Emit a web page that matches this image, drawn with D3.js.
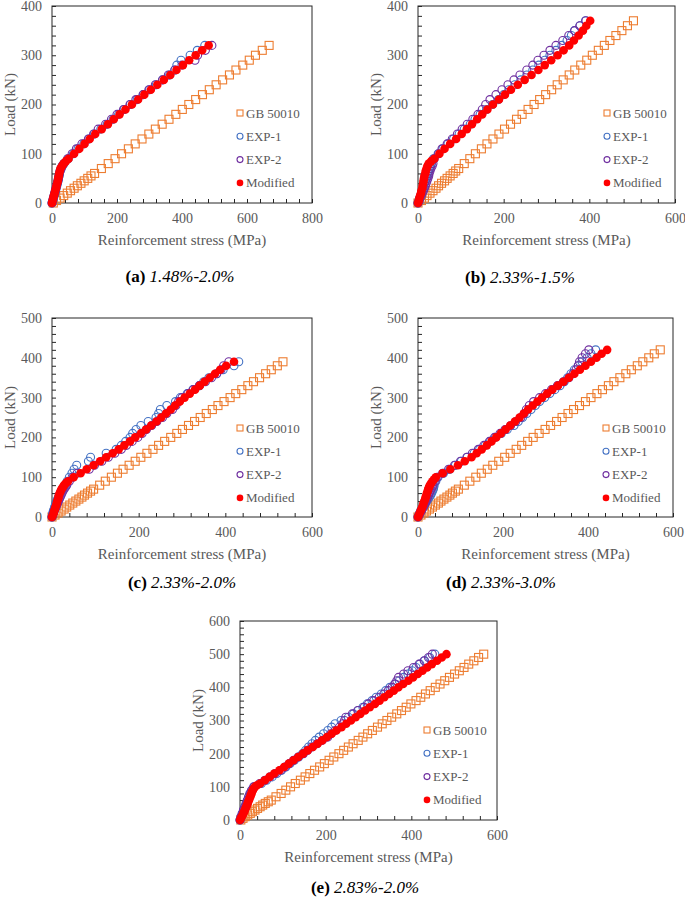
<!DOCTYPE html>
<html><head><meta charset="utf-8">
<script src="https://cdn.jsdelivr.net/npm/d3@7/dist/d3.min.js"></script>
<style>
body{margin:0;background:#fff}
svg text{font-family:"Liberation Serif","Times New Roman",serif}
</style>
</head><body>
<svg id="chart" width="685" height="902"></svg>
<script>
// ---------- DATA: [stress (MPa), load (kN)] ----------
const seriesNames = ["GB 50010", "EXP-1", "EXP-2", "Modified"];
const captionLabels = ["(a)", "(b)", "(c)", "(d)", "(e)"];
const captionTexts = ["1.48%-2.0%", "2.33%-1.5%", "2.33%-2.0%", "2.33%-3.0%", "2.83%-2.0%"];
const xTitle = "Reinforcement stress (MPa)";
const yTitle = "Load (kN)";
const xMaxes = [800, 600, 600, 600, 600];
const yMaxes = [400, 400, 500, 500, 600];

// Panel (a)
const gbA = [[4,0],[14,5],[25,10],[36,15],[47,20],[57,25],[68,30],[78,35],[89,40],[99,45],[110,50],[120,55],[131,60],[152,70],[173,80],[194,90],[214,100],[235,110],[256,120],[277,130],[298,140],[318,150],[339,160],[360,170],[381,180],[401,190],[421,200],[442,210],[463,220],[484,230],[505,240],[525,250],[546,260],[566,270],[587,280],[607,290],[626,300],[647,310],[668,320]];
const exp1A = [[0,0],[3,5],[5,10],[7,15],[9,20],[11,25],[13,30],[15,35],[17,40],[19,45],[20,50],[22,55],[23,60],[25,65],[28,70],[32,75],[37,80],[50,90],[66,100],[80,110],[98,120],[113,130],[130,140],[150,150],[170,160],[188,170],[205,180],[222,190],[241,200],[262,210],[281,220],[300,230],[321,240],[340,250],[362,260],[378,270],[384,280],[397,290],[425,300],[447,310],[470,320]];
const exp2A = [[0,0],[2,5],[4,10],[6,15],[8,20],[10,25],[12,30],[14,35],[16,40],[18,45],[20,50],[21,55],[23,60],[25,65],[28,70],[31,75],[36,80],[48,90],[62,100],[75,110],[92,120],[112,130],[128,140],[142,150],[165,160],[183,170],[200,180],[220,190],[240,200],[258,210],[280,220],[298,230],[318,240],[340,250],[358,260],[378,270],[400,280],[440,290],[448,300],[472,310],[492,320]];
const modA = [[0,0],[2,5],[4,10],[6,15],[8,20],[10,25],[12,30],[14,35],[16,40],[18,45],[19,50],[21,55],[22,60],[24,65],[26,70],[31,75],[36,80],[43,85],[51,90],[68,100],[84,110],[100,120],[116,130],[133,140],[153,150],[172,160],[190,170],[208,180],[226,190],[246,200],[265,210],[284,220],[304,230],[324,240],[344,250],[364,260],[383,270],[403,280],[422,290],[442,300],[462,310],[482,320]];

// Panel (b)
const gbB = [[0,0],[8,5],[15,10],[21,15],[28,20],[35,25],[42,30],[48,35],[55,40],[62,45],[68,50],[75,55],[82,60],[88,65],[95,70],[108,80],[121,90],[134,100],[148,110],[161,120],[175,130],[189,140],[202,150],[216,160],[230,170],[243,180],[257,190],[271,200],[284,210],[298,220],[312,230],[325,240],[339,250],[353,260],[366,270],[380,280],[394,290],[407,300],[421,310],[435,320],[448,330],[462,340],[476,350],[489,360],[503,370]];
const exp1B = [[0,0],[2,5],[4,10],[6,15],[8,20],[10,25],[12,30],[13,35],[15,40],[17,45],[19,50],[21,55],[23,60],[25,65],[27,70],[29,75],[31,80],[36,90],[47,100],[58,110],[70,120],[83,130],[96,140],[108,150],[122,160],[133,170],[145,180],[160,190],[174,200],[188,210],[200,220],[212,230],[226,240],[240,250],[254,260],[268,270],[282,280],[296,290],[308,300],[322,310],[336,320],[348,330],[358,340],[365,350],[378,360],[391,370]];
const exp2B = [[0,0],[3,5],[5,10],[8,15],[10,20],[13,25],[15,30],[17,35],[19,40],[21,45],[23,50],[25,55],[26,60],[28,65],[30,70],[33,75],[35,80],[38,90],[48,100],[56,110],[68,120],[80,130],[92,140],[103,150],[115,160],[128,170],[140,180],[150,190],[158,200],[168,210],[182,220],[196,230],[210,240],[224,250],[238,260],[254,270],[268,280],[280,290],[294,300],[308,310],[322,320],[338,330],[352,340],[366,350],[378,360],[392,370]];
const modB = [[0,0],[2,5],[3,10],[5,15],[7,20],[8,25],[10,30],[11,35],[12,40],[13,45],[14,50],[15,55],[17,60],[18,65],[20,70],[22,75],[25,80],[31,85],[38,90],[50,100],[62,110],[75,120],[89,130],[102,140],[114,150],[126,160],[138,170],[150,180],[162,190],[175,200],[189,210],[203,220],[217,230],[233,240],[249,250],[265,260],[281,270],[296,280],[311,290],[326,300],[340,310],[353,320],[364,330],[375,340],[385,350],[393,360],[402,370]];

// Panel (c)
const gbC = [[0,0],[7,5],[14,10],[21,15],[28,20],[34,25],[41,30],[48,35],[55,40],[62,45],[69,50],[75,55],[82,60],[89,65],[96,70],[110,80],[123,90],[137,100],[151,110],[164,120],[178,130],[192,140],[205,150],[219,160],[233,170],[246,180],[260,190],[274,200],[288,210],[301,220],[315,230],[329,240],[342,250],[356,260],[370,270],[383,280],[397,290],[411,300],[424,310],[438,320],[452,330],[465,340],[479,350],[493,360],[506,370],[520,380],[533,390]];
const exp1C = [[0,0],[1,5],[2,10],[3,15],[5,20],[6,25],[8,30],[9,35],[11,40],[13,45],[15,50],[17,55],[19,60],[21,65],[24,70],[27,75],[30,80],[35,90],[40,100],[46,110],[51,120],[57,130],[84,140],[89,150],[125,160],[148,170],[160,180],[170,190],[180,200],[186,210],[194,220],[205,230],[222,240],[240,250],[246,260],[250,270],[265,280],[285,290],[296,300],[312,310],[325,320],[340,330],[350,340],[362,350],[380,360],[395,370],[420,380],[431,390]];
const exp2C = [[0,0],[2,5],[3,10],[5,15],[7,20],[9,25],[11,30],[13,35],[15,40],[17,45],[19,50],[21,55],[23,60],[25,65],[28,70],[31,75],[34,80],[40,90],[48,100],[58,110],[86,120],[98,130],[115,140],[130,150],[145,160],[160,170],[172,180],[185,190],[198,200],[208,210],[218,220],[230,230],[242,240],[255,250],[265,260],[278,270],[286,280],[292,290],[300,300],[314,310],[326,320],[340,330],[354,340],[368,350],[380,360],[390,370],[396,380],[408,390]];
const modC = [[0,0],[2,5],[4,10],[5,15],[7,20],[8,25],[10,30],[11,35],[12,40],[14,45],[15,50],[16,55],[18,60],[20,65],[22,70],[25,75],[28,80],[32,85],[37,90],[50,100],[66,110],[80,120],[96,130],[111,140],[125,150],[140,160],[154,170],[167,180],[180,190],[192,200],[205,210],[217,220],[229,230],[241,240],[252,250],[263,260],[274,270],[284,280],[295,290],[306,300],[318,310],[330,320],[341,330],[352,340],[364,350],[376,360],[388,370],[402,380],[420,390]];

// Panel (d)
const gbD = [[0,0],[7,5],[14,10],[20,15],[27,20],[34,25],[41,30],[48,35],[54,40],[61,45],[68,50],[75,55],[81,60],[88,65],[95,70],[109,80],[122,90],[136,100],[149,110],[163,120],[176,130],[190,140],[204,150],[217,160],[231,170],[244,180],[258,190],[271,200],[285,210],[299,220],[312,230],[326,240],[339,250],[353,260],[366,270],[380,280],[394,290],[407,300],[421,310],[434,320],[448,330],[461,340],[475,350],[489,360],[502,370],[516,380],[529,390],[543,400],[556,410],[570,420]];
const exp1D = [[0,0],[2,5],[4,10],[6,15],[9,20],[12,25],[15,30],[18,35],[21,40],[24,45],[27,50],[30,55],[32,60],[34,65],[36,70],[37,75],[38,80],[42,90],[47,100],[60,110],[75,120],[88,130],[102,140],[116,150],[132,160],[145,170],[158,180],[170,190],[182,200],[196,210],[210,220],[226,230],[236,240],[246,250],[256,260],[266,270],[276,280],[286,290],[298,300],[310,310],[322,320],[334,330],[344,340],[352,350],[360,360],[368,370],[377,380],[386,390],[398,400],[407,410],[418,420]];
const exp2D = [[0,0],[3,5],[5,10],[8,15],[10,20],[13,25],[15,30],[17,35],[19,40],[21,45],[23,50],[25,55],[27,60],[29,65],[31,70],[33,75],[35,80],[40,90],[45,100],[58,110],[72,120],[86,130],[100,140],[115,150],[128,160],[142,170],[155,180],[168,190],[180,200],[193,210],[205,220],[218,230],[230,240],[242,250],[250,260],[255,270],[262,280],[272,290],[286,300],[300,310],[314,320],[328,330],[342,340],[355,350],[365,360],[372,370],[377,380],[380,390],[386,400],[394,410],[402,420]];
const modD = [[0,0],[2,5],[4,10],[6,15],[8,20],[10,25],[12,30],[13,35],[15,40],[17,45],[18,50],[20,55],[21,60],[23,65],[24,70],[26,75],[28,80],[31,85],[34,90],[38,95],[42,100],[58,110],[76,120],[94,130],[110,140],[126,150],[138,160],[150,170],[162,180],[173,190],[184,200],[195,210],[206,220],[217,230],[228,240],[239,250],[249,260],[259,270],[270,280],[281,290],[292,300],[304,310],[316,320],[329,330],[342,340],[355,350],[368,360],[381,370],[394,380],[407,390],[420,400],[432,410],[445,420]];

// Panel (e)
const gbE = [[2,0],[7,5],[12,10],[18,15],[24,20],[29,25],[35,30],[41,35],[47,40],[53,45],[59,50],[66,55],[73,60],[84,70],[96,80],[107,90],[118,100],[129,110],[141,120],[152,130],[163,140],[174,150],[186,160],[197,170],[208,180],[219,190],[231,200],[242,210],[253,220],[264,230],[276,240],[287,250],[298,260],[309,270],[321,280],[332,290],[343,300],[354,310],[366,320],[377,330],[388,340],[399,350],[411,360],[422,370],[433,380],[444,390],[456,400],[467,410],[478,420],[489,430],[501,440],[512,450],[523,460],[534,470],[546,480],[557,490],[569,500]];
const exp1E = [[0,0],[3,10],[6,20],[9,30],[12,40],[15,50],[18,60],[21,70],[24,80],[28,90],[33,100],[50,110],[62,120],[75,130],[86,140],[97,150],[107,160],[117,170],[127,180],[137,190],[146,200],[153,210],[160,220],[168,230],[176,240],[185,250],[195,260],[205,270],[214,280],[222,290],[236,300],[253,310],[265,320],[276,330],[287,340],[297,350],[308,360],[318,370],[330,380],[340,390],[350,400],[361,410],[372,420],[382,430],[392,440],[402,450],[411,460],[420,470],[431,480],[443,490],[455,500]];
const exp2E = [[0,0],[2,10],[5,20],[8,30],[11,40],[14,50],[17,60],[20,70],[23,80],[27,90],[32,100],[46,110],[58,120],[70,130],[82,140],[95,150],[105,160],[115,170],[125,180],[136,190],[148,200],[158,210],[168,220],[180,230],[192,240],[205,250],[212,260],[222,270],[232,280],[240,290],[244,300],[247,310],[262,320],[275,330],[290,340],[300,350],[312,360],[325,370],[336,380],[346,390],[355,400],[362,410],[366,420],[370,430],[382,440],[392,450],[405,460],[418,470],[430,480],[440,490],[449,500]];
const modE = [[0,0],[2,5],[4,10],[6,15],[8,20],[10,25],[11,30],[13,35],[15,40],[16,45],[18,50],[19,55],[21,60],[22,65],[24,70],[25,75],[27,80],[28,85],[30,90],[32,95],[35,100],[40,105],[47,110],[58,120],[69,130],[80,140],[92,150],[103,160],[114,170],[125,180],[136,190],[147,200],[158,210],[170,220],[181,230],[192,240],[203,250],[214,260],[225,270],[237,280],[248,290],[259,300],[270,310],[281,320],[292,330],[303,340],[315,350],[326,360],[337,370],[348,380],[359,390],[370,400],[381,410],[393,420],[404,430],[415,440],[426,450],[437,460],[448,470],[460,480],[471,490],[482,500]];

// ---------- LAYOUT / STYLE ----------
const colors = ["#ED7D31", "#4472C4", "#7030A0", "#FF0000"];
const panelData = [
  [gbA, exp1A, exp2A, modA],
  [gbB, exp1B, exp2B, modB],
  [gbC, exp1C, exp2C, modC],
  [gbD, exp1D, exp2D, modD],
  [gbE, exp1E, exp2E, modE]
];
const layout = [
  {x0: 52,  x1: 312, y0: 6,   y1: 203, legX: 240, legY: 113, capX: 180, capY: 282},
  {x0: 418, x1: 675, y0: 6,   y1: 203, legX: 607, legY: 113, capX: 520, capY: 283},
  {x0: 52,  x1: 312, y0: 318, y1: 517, legX: 240, legY: 428, capX: 182, capY: 588},
  {x0: 418, x1: 673, y0: 318, y1: 517, legX: 606, legY: 428, capX: 501, capY: 588},
  {x0: 240, x1: 497, y0: 621, y1: 820, legX: 427, legY: 730, capX: 365, capY: 893}
];
const grey = "#595959", axisCol = "#262626";

const svg = d3.select("#chart");

panelData.forEach((series, i) => {
  const L = layout[i];
  const x = d3.scaleLinear().domain([0, xMaxes[i]]).range([L.x0, L.x1]);
  const y = d3.scaleLinear().domain([0, yMaxes[i]]).range([L.y1, L.y0]);
  const g = svg.append("g");

  // minor/major inward ticks
  const xt = g.append("g").attr("transform", `translate(0,${L.y1})`)
    .call(d3.axisBottom(x).tickValues(d3.range(0, xMaxes[i] + 1, 40)).tickSize(-4).tickFormat(""));
  const yt = g.append("g").attr("transform", `translate(${L.x0},0)`)
    .call(d3.axisLeft(y).tickValues(d3.range(0, yMaxes[i] + 1, 20)).tickSize(-4).tickFormat(""));
  [xt, yt].forEach(a => { a.select(".domain").remove(); a.selectAll("line").attr("stroke", axisCol); });

  // labels
  const xl = g.append("g").attr("transform", `translate(0,${L.y1})`)
    .call(d3.axisBottom(x).tickValues(d3.range(0, xMaxes[i] + 1, 200)).tickSize(0).tickPadding(10));
  const yl = g.append("g").attr("transform", `translate(${L.x0},0)`)
    .call(d3.axisLeft(y).tickValues(d3.range(0, yMaxes[i] + 1, 100)).tickSize(0).tickPadding(10));
  [xl, yl].forEach(a => {
    a.select(".domain").remove();
    a.selectAll("text").attr("fill", grey).attr("font-size", 14)
      .attr("font-family", '"Liberation Serif","Times New Roman",serif');
  });

  // frame
  g.append("rect").attr("x", L.x0).attr("y", L.y0).attr("width", L.x1 - L.x0).attr("height", L.y1 - L.y0)
    .attr("fill", "none").attr("stroke", axisCol).attr("stroke-width", 1);

  // axis titles
  g.append("text").attr("x", (L.x0 + L.x1) / 2).attr("y", L.y1 + 42).attr("text-anchor", "middle")
    .attr("font-size", 15).attr("fill", grey).text(xTitle);
  g.append("text").attr("transform", `translate(${L.x0 - 37},${(L.y0 + L.y1) / 2}) rotate(-90)`)
    .attr("text-anchor", "middle").attr("font-size", 15).attr("fill", grey).text(yTitle);

  // series
  series.forEach((data, s) => {
    const sg = g.append("g");
    if (s === 0) {
      sg.selectAll("rect").data(data).join("rect")
        .attr("x", d => x(d[0]) - 4).attr("y", d => y(d[1]) - 4)
        .attr("width", 8).attr("height", 8)
        .attr("fill", "none").attr("stroke", colors[s]).attr("stroke-width", 1.1);
    } else if (s < 3) {
      sg.selectAll("circle").data(data).join("circle")
        .attr("cx", d => x(d[0])).attr("cy", d => y(d[1])).attr("r", 4)
        .attr("fill", "none").attr("stroke", colors[s]).attr("stroke-width", 1.1);
    } else {
      sg.selectAll("circle").data(data).join("circle")
        .attr("cx", d => x(d[0])).attr("cy", d => y(d[1])).attr("r", 4.3)
        .attr("fill", colors[s]);
    }
  });

  // legend
  const lg = g.append("g");
  seriesNames.forEach((name, s) => {
    const ly = L.legY + s * 23.3;
    if (s === 0) {
      lg.append("rect").attr("x", L.legX - 3).attr("y", ly - 3).attr("width", 6).attr("height", 6)
        .attr("fill", "none").attr("stroke", colors[s]).attr("stroke-width", 1.1);
    } else if (s < 3) {
      lg.append("circle").attr("cx", L.legX).attr("cy", ly).attr("r", 3)
        .attr("fill", "none").attr("stroke", colors[s]).attr("stroke-width", 1.1);
    } else {
      lg.append("circle").attr("cx", L.legX).attr("cy", ly).attr("r", 3.3).attr("fill", colors[s]);
    }
    lg.append("text").attr("x", L.legX + 6).attr("y", ly).attr("dy", "0.35em")
      .attr("font-size", 13).attr("fill", grey).text(name);
  });

  // caption
  const cap = svg.append("text").attr("x", L.capX).attr("y", L.capY).attr("text-anchor", "middle")
    .attr("font-size", 17).attr("fill", "#000");
  cap.append("tspan").attr("font-weight", "bold").text(captionLabels[i] + " ");
  cap.append("tspan").attr("font-style", "italic").text(captionTexts[i]);
});
</script>
</body></html>
